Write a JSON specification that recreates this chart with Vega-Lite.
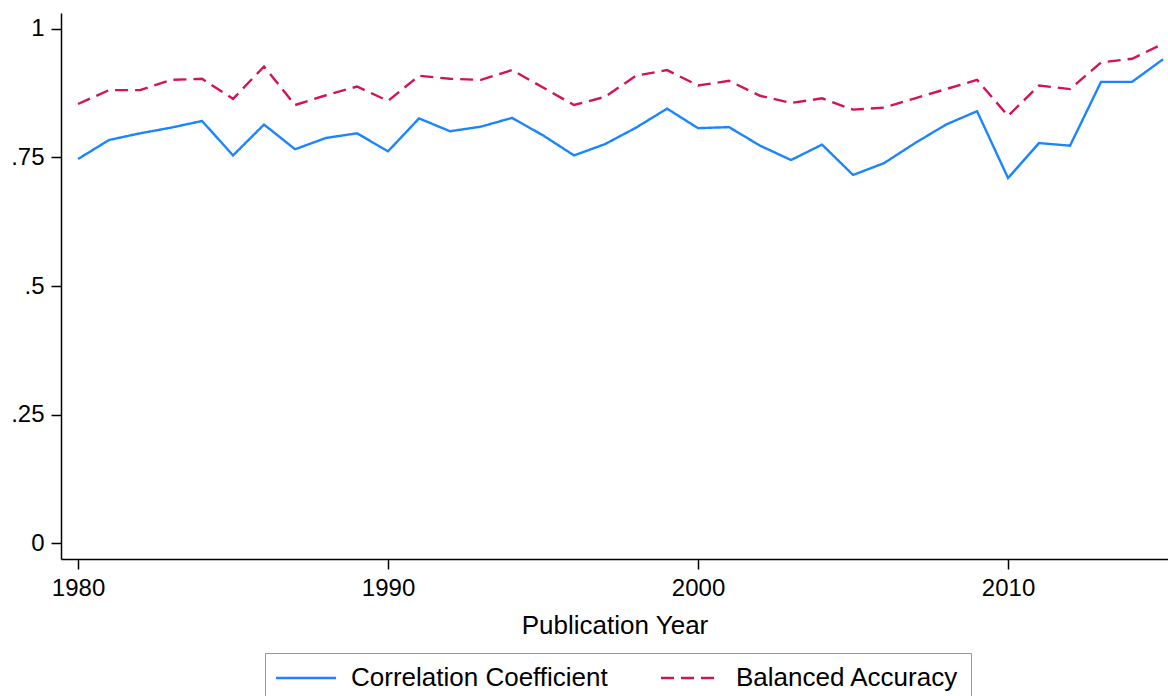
{
  "$schema": "https://vega.github.io/schema/vega-lite/v6.json",
  "width": 1107,
  "height": 546,
  "autosize": {"type": "none"},
  "padding": {"left": 61, "top": 13, "right": 0, "bottom": 137},
  "background": "white",
  "config": {
    "font": "Liberation Sans",
    "view": {"stroke": null},
    "axis": {"grid": false, "domainColor": "#000000", "domainWidth": 1.5, "tickColor": "#000000", "tickWidth": 1.5, "tickSize": 10, "labelFont": "Liberation Sans", "labelFontSize": 24, "labelColor": "#000000", "titleFont": "Liberation Sans", "titleFontSize": 26, "titleFontWeight": "normal", "titleColor": "#000000"},
    "legend": {"labelLimit": 500}
  },
  "data": {
    "values": [
      {"year": 1980, "cc": 0.747, "ba": 0.854},
      {"year": 1981, "cc": 0.784, "ba": 0.881},
      {"year": 1982, "cc": 0.797, "ba": 0.881},
      {"year": 1983, "cc": 0.808, "ba": 0.901},
      {"year": 1984, "cc": 0.821, "ba": 0.903},
      {"year": 1985, "cc": 0.754, "ba": 0.864},
      {"year": 1986, "cc": 0.814, "ba": 0.927},
      {"year": 1987, "cc": 0.766, "ba": 0.852},
      {"year": 1988, "cc": 0.788, "ba": 0.871},
      {"year": 1989, "cc": 0.797, "ba": 0.888},
      {"year": 1990, "cc": 0.762, "ba": 0.860},
      {"year": 1991, "cc": 0.826, "ba": 0.909},
      {"year": 1992, "cc": 0.801, "ba": 0.903},
      {"year": 1993, "cc": 0.810, "ba": 0.901},
      {"year": 1994, "cc": 0.827, "ba": 0.920},
      {"year": 1995, "cc": 0.793, "ba": 0.886},
      {"year": 1996, "cc": 0.754, "ba": 0.852},
      {"year": 1997, "cc": 0.776, "ba": 0.868},
      {"year": 1998, "cc": 0.808, "ba": 0.909},
      {"year": 1999, "cc": 0.845, "ba": 0.920},
      {"year": 2000, "cc": 0.807, "ba": 0.890},
      {"year": 2001, "cc": 0.809, "ba": 0.899},
      {"year": 2002, "cc": 0.773, "ba": 0.870},
      {"year": 2003, "cc": 0.745, "ba": 0.856},
      {"year": 2004, "cc": 0.775, "ba": 0.865},
      {"year": 2005, "cc": 0.716, "ba": 0.843},
      {"year": 2006, "cc": 0.739, "ba": 0.847},
      {"year": 2007, "cc": 0.778, "ba": 0.865},
      {"year": 2008, "cc": 0.814, "ba": 0.883},
      {"year": 2009, "cc": 0.840, "ba": 0.901},
      {"year": 2010, "cc": 0.710, "ba": 0.831},
      {"year": 2011, "cc": 0.778, "ba": 0.890},
      {"year": 2012, "cc": 0.773, "ba": 0.883},
      {"year": 2013, "cc": 0.897, "ba": 0.935},
      {"year": 2014, "cc": 0.897, "ba": 0.942},
      {"year": 2015, "cc": 0.941, "ba": 0.971}
    ]
  },
  "transform": [
    {"fold": ["cc", "ba"], "as": ["key", "value"]},
    {"lookup": "key", "from": {"data": {"values": [{"key": "cc", "measure": "Correlation Coefficient"}, {"key": "ba", "measure": "Balanced Accuracy"}]}, "key": "key", "fields": ["measure"]}}
  ],
  "mark": {"type": "line", "strokeWidth": 2.4, "clip": true},
  "encoding": {
    "x": {
      "field": "year", "type": "quantitative",
      "scale": {"domain": [1979.45, 2015.16], "nice": false, "zero": false},
      "axis": {"values": [1980, 1990, 2000, 2010], "format": "d", "labelPadding": 7, "title": "Publication Year", "titlePadding": 12, "labelFlush": false}
    },
    "y": {
      "field": "value", "type": "quantitative",
      "scale": {"domain": [-0.031, 1.031], "nice": false, "zero": false},
      "axis": {"values": [0, 0.25, 0.5, 0.75, 1], "labelExpr": "replace(format(datum.value, '.2~f'), '0.', '.')", "title": null, "labelPadding": 7, "labelFlush": false}
    },
    "color": {
      "field": "measure", "type": "nominal",
      "scale": {"domain": ["Correlation Coefficient", "Balanced Accuracy"], "range": ["#1a85ff", "#d41159"]},
      "legend": {"title": null, "orient": "none", "legendX": 204, "legendY": 640, "direction": "horizontal", "strokeColor": "#999999", "fillColor": "white", "padding": 12, "labelFontSize": 26, "labelColor": "#000000", "labelFont": "Liberation Sans", "labelLimit": 500, "symbolType": "M-3,0H3", "symbolSize": 400, "symbolStrokeWidth": 2.4, "symbolOffset": 16, "labelOffset": 32, "columnPadding": 48}
    },
    "strokeDash": {
      "field": "measure", "type": "nominal",
      "scale": {"domain": ["Correlation Coefficient", "Balanced Accuracy"], "range": [[1, 0], [13, 7]]},
      "legend": {"title": null, "orient": "none", "legendX": 204, "legendY": 640, "direction": "horizontal", "strokeColor": "#999999", "fillColor": "white", "padding": 12, "labelFontSize": 26, "labelColor": "#000000", "labelFont": "Liberation Sans", "labelLimit": 500, "symbolType": "M-3,0H3", "symbolSize": 400, "symbolStrokeWidth": 2.4, "symbolOffset": 16, "labelOffset": 32, "columnPadding": 48}
    }
  }
}
